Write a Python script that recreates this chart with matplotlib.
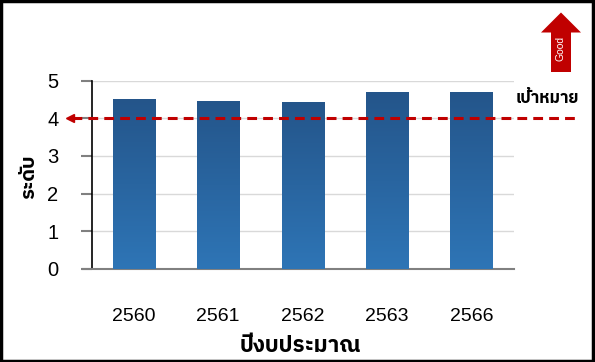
import numpy as np
import matplotlib
matplotlib.use("Agg")
import matplotlib.pyplot as plt
from matplotlib import font_manager
from matplotlib.ft2font import FT2Font
from matplotlib.patches import Polygon, Rectangle
from matplotlib.transforms import blended_transform_factory

years = ["2560", "2561", "2562", "2563", "2566"]
scores = [4.51, 4.47, 4.44, 4.69, 4.70]
target = 4.0
yticks = [0, 1, 2, 3, 4, 5]

x_title = "ปีงบประมาณ"
y_title = "ระดับ"
target_label = "เป้าหมาย"
good_label = "Good"

BAR_TOP = "#24558a"
BAR_BOTTOM = "#2e75b6"
RED = "#c00000"
GRID = "#d9d9d9"
TICK = "#808080"


def thai_font():
    # pick any installed font that actually has Thai glyphs
    best = None
    for path in font_manager.findSystemFonts():
        try:
            cmap = FT2Font(path).get_charmap()
        except Exception:
            continue
        if 0x0E1B in cmap and 0x0E31 in cmap:
            name = font_manager.FontProperties(fname=path).get_name()
            if best is None or "Sans" in name:
                best = name
    return best


TH = thai_font()
plt.rcParams["font.family"] = ["Liberation Sans", "DejaVu Sans"]
th_family = [TH, "DejaVu Sans"] if TH else ["DejaVu Sans"]

W, H = 595, 362
fig = plt.figure(figsize=(W / 100, H / 100), dpi=100)


def fx(px):
    return px / W


def fy(py):
    return 1 - py / H


ax = fig.add_axes([fx(91.7), fy(269), fx(513.5) - fx(91.7), fy(80.6) - fy(269)])

bars = ax.bar(range(len(years)), scores, width=0.5, color="none", zorder=3)
grad = np.linspace(0, 1, 256).reshape(-1, 1)
cmap = matplotlib.colors.LinearSegmentedColormap.from_list("bar", [BAR_BOTTOM, BAR_TOP])
for b in bars:
    x0, w, h = b.get_x(), b.get_width(), b.get_height()
    im = ax.imshow(grad, cmap=cmap, origin="lower", aspect="auto",
                   extent=(x0, x0 + w, 0, h), zorder=3)
    im.set_clip_path(b)
ax.set_xlim(-0.5, len(years) - 0.5)
ax.set_ylim(0, 5)

ax.set_yticks(yticks)
ax.set_xticks(range(len(years)))
ax.set_xticklabels(years)
ax.tick_params(axis="y", length=8, width=1.5, color=TICK, labelsize=14.5, pad=20)
ax.tick_params(axis="x", length=0, labelsize=14, pad=28)
ax.grid(axis="y", color=GRID, linewidth=1)
ax.set_axisbelow(True)
for s in ("top", "right"):
    ax.spines[s].set_visible(False)
ax.spines["left"].set_color("black")
ax.spines["left"].set_linewidth(1.2)
ax.spines["bottom"].set_color(TICK)
ax.spines["bottom"].set_linewidth(1.5)
ax.spines["bottom"].set_bounds(-0.5 - 8.5 / 84.4, len(years) - 0.5)
for lab in ax.get_yticklabels():
    lab.set_horizontalalignment("center")

ax.set_xlabel(x_title, family=th_family, fontsize=16, fontweight="bold")
ax.xaxis.set_label_coords(0.495, -0.35)
ax.set_ylabel(y_title, family=th_family, fontsize=14.5, fontweight="bold")
ax.yaxis.set_label_coords(-0.128, 0.49)

# target line running past both sides of the axes
tr = blended_transform_factory(fig.transFigure, ax.transData)
tl = ax.plot([fx(72), fx(575)], [target, target], transform=tr, color=RED,
             linewidth=2.2, clip_on=False, zorder=4)[0]
tl.set_dashes((3.2, 2.0))
ax.plot([fx(70)], [target], transform=tr, marker="<", markersize=6,
        color=RED, clip_on=False, zorder=4)
fig.text(fx(547), fy(98), target_label, family=th_family, fontsize=12,
         fontweight="bold", ha="center", va="center")

# "Good" arrow in the top right corner
pts = [(551, 72), (551, 32.5), (541, 32.5), (561, 12.5), (581, 32.5),
       (571, 32.5), (571, 72)]
fig.patches.append(Polygon([(fx(a), fy(b)) for a, b in pts], closed=True,
                           transform=fig.transFigure, facecolor=RED,
                           edgecolor="none"))
fig.text(fx(561), fy(48), good_label, rotation=90, color="white", fontsize=7.5,
         ha="center", va="center")

fig.patches.append(Rectangle((0.002, 0.003), 0.994, 0.995, transform=fig.transFigure,
                             fill=False, edgecolor="black", linewidth=2.5))

fig.savefig("out.png", dpi=100)
